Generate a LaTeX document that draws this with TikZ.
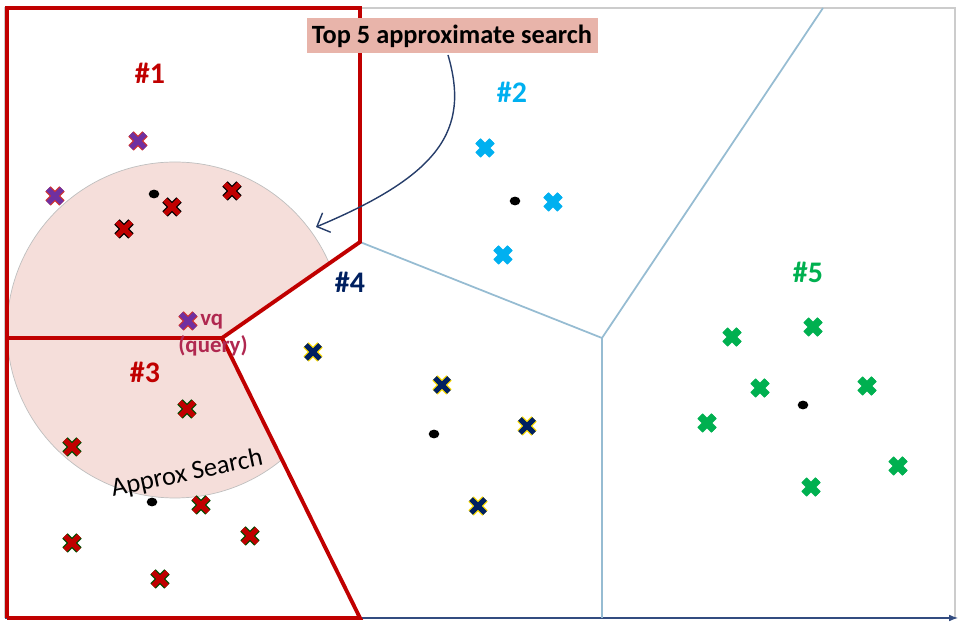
\documentclass[tikz,border=0pt]{standalone}
\usepackage{fontspec}
\setmainfont{Carlito}
\usetikzlibrary{arrows.meta}
\definecolor{cellred}{RGB}{192,0,0}
\definecolor{cellblue}{RGB}{0,176,240}
\definecolor{cellnavy}{RGB}{0,32,96}
\definecolor{cellgreen}{RGB}{0,176,80}
\definecolor{cellpurple}{RGB}{112,48,160}
\definecolor{voronoi}{RGB}{150,188,210}
\definecolor{searchpink}{RGB}{245,222,218}
\definecolor{labelpink}{RGB}{232,180,170}
\definecolor{querycol}{RGB}{176,40,80}
\tikzset{
  cellline/.style={cellred, line width=2.2pt},
  celllabel/.style={font=\bfseries\fontsize{17}{19}\selectfont},
  centroid/.style={fill=black, ellipse, inner sep=0pt, minimum width=6pt, minimum height=5pt},
}
\newcommand\crossat[3]{% position, outline, fill
  \draw[#2, line width=4.4pt] ($(#1)+(-7,-7)$)--($(#1)+(7,7)$) ($(#1)+(-7,7)$)--($(#1)+(7,-7)$);
  \draw[#3, line width=3pt] ($(#1)+(-7,-7)$)--($(#1)+(7,7)$) ($(#1)+(-7,7)$)--($(#1)+(7,-7)$);}
\usetikzlibrary{calc,shapes.geometric}
\begin{document}
\begin{tikzpicture}[x=0.02cm,y=-0.02cm]
\useasboundingbox (0,0) rectangle (961,624);
% frame
\draw[gray!40, line width=0.8pt] (5,618)--(5,8)--(955,8)--(955,618);
\draw[cellnavy!80, line width=0.6pt, -{Latex[length=5pt]}] (5,618)--(958,618);

% voronoi cells
\coordinate (v1) at (360,242);
\coordinate (v2) at (602,338);
\coordinate (v3) at (222,338);

% search area
\begin{scope}
\clip (7,618)--(7,8)--(360,8)--(v1)--(v3)--(360,618)--cycle;
\fill[searchpink, draw=gray!50, line width=0.4pt] (175,330) circle (168);
\end{scope}
\node[rotate=12, font=\fontsize{15}{17}\selectfont] (approx) at (187,474) {Approx Search};

\draw[voronoi, line width=1pt] (v1)--(v2)--(823,8) (v2)--(602,618);
\draw[cellline] (7,618)--(7,8)--(360,8)--(v1)--(v3)--(7,338) (v3)--(360,618)--(7,618);

% labels
\node[celllabel, text=cellred] (c1) at (150,73) {\#1};
\node[celllabel, text=cellblue] (c2) at (512,92) {\#2};
\node[celllabel, text=cellred] (c3) at (145,372) {\#3};
\node[celllabel, text=cellnavy] (c4) at (350,282) {\#4};
\node[celllabel, text=cellgreen] (c5) at (808,272) {\#5};
\node[fill=labelpink, font=\bfseries\fontsize{15}{17}\selectfont, minimum width=291*0.02cm, minimum height=35*0.02cm, inner sep=0pt] (top) at (452,36) {Top 5 approximate search};
\coordinate (hit) at (316,227);
\draw[cellnavy!70!gray, line width=0.8pt, -{Straight Barb[length=6pt]}] (448,55) .. controls (470,130) and (440,175) .. (hit);
\node[text=querycol, font=\bfseries\fontsize{13}{15}\selectfont, anchor=west, inner sep=0pt] (vq) at (200,322) {vq};
\node[text=querycol, font=\bfseries\fontsize{13}{15}\selectfont, inner sep=0pt] (query) at (213,346) {(query)};

% centroids
\foreach \p in {(154,194),(515,201),(434,434),(152,502),(803,405)}
  \node[centroid] at \p {};

% points
\foreach \p in {{138,141},{55,196},{188,321}} \crossat{\p}{cellred!80}{cellpurple};
\foreach \p in {{172,207},{232,191},{124,229}} \crossat{\p}{black}{cellred};
\foreach \p in {{187,409},{72,447},{201,505},{250,536},{72,543},{160,579}} \crossat{\p}{black!70!green}{cellred};
\foreach \p in {{485,148},{553,202},{503,255}} \crossat{\p}{cellblue}{cellblue};
\foreach \p in {{313,352},{442,385},{527,426},{478,506}} \crossat{\p}{yellow!80!orange}{cellnavy};
\foreach \p in {{732,337},{813,327},{760,388},{867,386},{707,423},{898,466},{811,487}} \crossat{\p}{cellgreen}{cellgreen};
\end{tikzpicture}
\end{document}
